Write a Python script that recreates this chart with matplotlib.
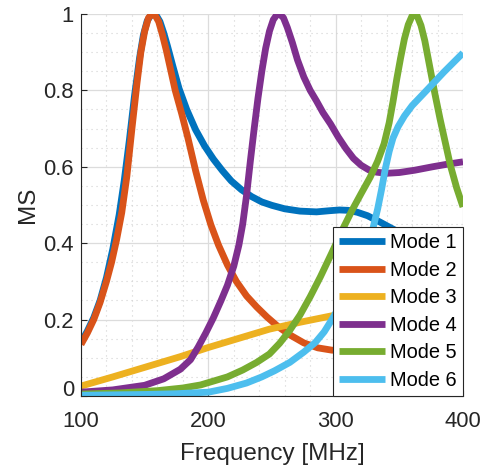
import numpy as np
import matplotlib
matplotlib.use("Agg")
from matplotlib import pyplot as plt
from matplotlib.ticker import MultipleLocator
from matplotlib.transforms import ScaledTranslation

plt.rcParams['font.family'] = ['Liberation Sans', 'DejaVu Sans']

# values (frequency in MHz, MS)
f1 = [100, 105, 110, 115, 120, 125, 130, 134, 138, 142, 146, 149, 152, 155, 157, 159, 162, 165,
      168, 172, 177, 183, 190, 197, 204, 211, 218, 226, 234, 242, 250, 260, 272, 285, 295, 303,
      310, 317, 325, 335, 345, 360, 380, 400]
ms1 = [0.14, 0.17, 0.205, 0.25, 0.31, 0.385, 0.475, 0.565, 0.67, 0.785, 0.885, 0.945, 0.982,
       0.998, 1.0, 0.997, 0.98, 0.95, 0.915, 0.865, 0.805, 0.75, 0.697, 0.655, 0.62, 0.59, 0.563,
       0.54, 0.522, 0.508, 0.499, 0.49, 0.484, 0.482, 0.485, 0.487, 0.486, 0.481, 0.472, 0.455,
       0.437, 0.412, 0.384, 0.356]

f2 = [100, 105, 110, 115, 120, 124, 128, 132, 136, 140, 144, 147, 150, 153, 156, 158, 161, 164,
      167, 170, 174, 179, 184, 190, 196, 202, 208, 215, 222, 230, 238, 246, 255, 264, 275, 286,
      297, 310, 325, 340, 355, 370, 385, 400]
ms2 = [0.135, 0.165, 0.2, 0.245, 0.3, 0.35, 0.41, 0.48, 0.575, 0.7, 0.82, 0.9, 0.955, 0.99, 1.0,
       0.998, 0.98, 0.945, 0.905, 0.86, 0.8, 0.74, 0.675, 0.59, 0.513, 0.448, 0.395, 0.343, 0.3,
       0.262, 0.233, 0.207, 0.181, 0.16, 0.139, 0.126, 0.12, 0.119, 0.124, 0.134, 0.147, 0.162,
       0.18, 0.2]

f3 = [100, 125, 150, 178, 200, 225, 248, 272, 297, 325, 350, 375, 400]
ms3 = [0.026, 0.05, 0.075, 0.103, 0.127, 0.152, 0.175, 0.193, 0.21, 0.225, 0.24, 0.255, 0.272]

f4 = [100, 125, 150, 165, 178, 186, 192, 198, 204, 210, 215, 220, 224, 227, 230, 233, 236, 239,
      242, 245, 248, 251, 254, 256, 259, 262, 266, 270, 275, 280, 285, 290, 296, 302, 308, 314,
      320, 326, 332, 340, 350, 362, 376, 388, 400]
ms4 = [0.01, 0.016, 0.028, 0.045, 0.07, 0.095, 0.128, 0.165, 0.205, 0.25, 0.29, 0.34, 0.395, 0.45,
       0.525, 0.615, 0.7, 0.78, 0.85, 0.91, 0.955, 0.985, 0.999, 1.0, 0.99, 0.965, 0.925, 0.88,
       0.835, 0.8, 0.772, 0.742, 0.712, 0.678, 0.648, 0.622, 0.604, 0.592, 0.586, 0.583, 0.585,
       0.591, 0.6, 0.607, 0.613]

f5 = [100, 130, 160, 180, 194, 205, 215, 227, 238, 248, 256, 264, 272, 280, 288, 297, 306, 313,
      320, 327, 333, 338, 342, 345, 348, 351, 354, 357, 360, 362, 364, 367, 370, 374, 378, 382,
      386, 390, 395, 400]
ms5 = [0.005, 0.008, 0.014, 0.021, 0.029, 0.04, 0.05, 0.068, 0.088, 0.11, 0.138, 0.172, 0.212,
       0.26, 0.312, 0.375, 0.44, 0.487, 0.53, 0.572, 0.615, 0.66, 0.715, 0.77, 0.83, 0.885, 0.935,
       0.972, 0.995, 1.0, 0.995, 0.97, 0.93, 0.86, 0.79, 0.725, 0.665, 0.605, 0.545, 0.495]

f6 = [100, 150, 175, 200, 215, 230, 242, 252, 264, 275, 284, 291, 297, 304, 311, 318, 324, 329,
      333, 336, 339, 342, 345, 349, 354, 360, 370, 385, 400]
ms6 = [0.002, 0.004, 0.006, 0.01, 0.02, 0.034, 0.05, 0.066, 0.088, 0.115, 0.14, 0.168, 0.2, 0.24,
       0.285, 0.335, 0.385, 0.435, 0.49, 0.54, 0.595, 0.64, 0.675, 0.705, 0.733, 0.76, 0.795,
       0.848, 0.898]

freqs = [f1, f2, f3, f4, f5, f6]
values = [ms1, ms2, ms3, ms4, ms5, ms6]
labels = ['Mode 1', 'Mode 2', 'Mode 3', 'Mode 4', 'Mode 5', 'Mode 6']
colors = ['#0072BD', '#D95319', '#EDB120', '#7E2F8E', '#77AC30', '#4DBEEE']

axcol = '#262626'

fig = plt.figure(figsize=(4.91, 4.65), dpi=100)
ax = fig.add_axes([81/491, 69/465, 382/491, 382/465])

for f, v, lab, c in zip(freqs, values, labels, colors):
    ax.plot(f, v, color=c, lw=4.9, label=lab, solid_joinstyle='round', solid_capstyle='butt')

ax.set_xlim(100, 400)
ax.set_ylim(0, 1)
ax.set_xticks([100, 200, 300, 400])
ax.set_yticks([0, 0.2, 0.4, 0.6, 0.8, 1])
ax.set_yticklabels(['0', '0.2', '0.4', '0.6', '0.8', '1'])
ax.xaxis.set_minor_locator(MultipleLocator(20))
ax.yaxis.set_minor_locator(MultipleLocator(0.05))
ax.grid(which='major', color='#dcdcdc', lw=0.9)
ax.grid(which='minor', color='#d2d2d2', lw=0.8, linestyle=(0, (1, 3.5)))
ax.set_axisbelow(True)

ax.spines['top'].set_visible(False)
ax.spines['right'].set_visible(False)
ax.spines['left'].set_color(axcol)
ax.spines['bottom'].set_color(axcol)
ax.tick_params(which='major', direction='in', length=4, color=axcol, labelcolor=axcol,
               labelsize=15.8)
ax.tick_params(axis='x', pad=11)
ax.tick_params(axis='y', pad=5)
ax.tick_params(which='minor', length=0)

# bottom y label sits a bit higher, as in the original
lab0 = ax.get_yticklabels()[0]
lab0.set_transform(lab0.get_transform() + ScaledTranslation(0, 8/100, fig.dpi_scale_trans))

ax.set_xlabel('Frequency [MHz]', fontsize=17.5, color=axcol, labelpad=8)
ax.set_ylabel('MS', fontsize=17.5, color=axcol, labelpad=3)

leg = ax.legend(loc='lower right', fontsize=14.4, borderaxespad=0, fancybox=False,
                framealpha=1, edgecolor=axcol, handlelength=2.3, handletextpad=0.25,
                labelspacing=0.43, borderpad=0.3)
leg.get_frame().set_linewidth(0.8)
for t in leg.get_texts():
    t.set_color('black')

plt.savefig('out.png', dpi=100)
